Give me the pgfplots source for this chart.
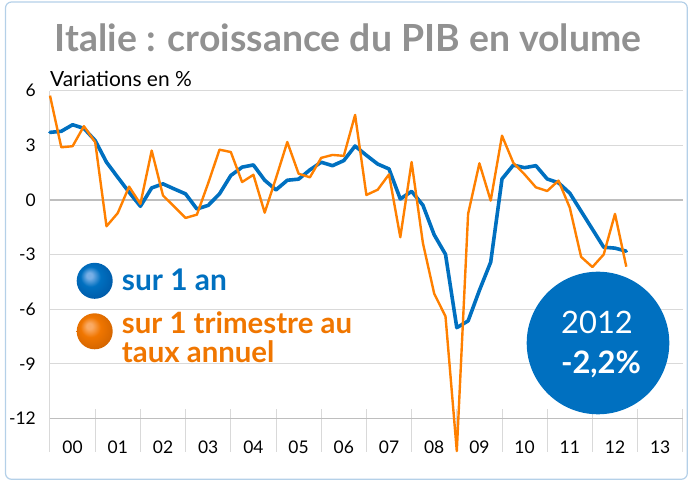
\documentclass[border=0pt]{standalone}
\usepackage{fontspec}
\setmainfont{Lato}
\usepackage{pgfplots}
\usepackage{pgfplotstable}
\pgfplotsset{compat=1.18}

\definecolor{lineblue}{RGB}{0,112,192}
\definecolor{lineorange}{RGB}{255,128,0}
\definecolor{txtorange}{RGB}{240,118,0}
\definecolor{gridgray}{RGB}{217,217,217}
\definecolor{axisgray}{RGB}{190,190,190}
\definecolor{titlegray}{RGB}{145,145,145}
\definecolor{framecol}{RGB}{180,208,232}
\definecolor{blueHi}{RGB}{120,175,230}
\definecolor{blueLo}{RGB}{0,90,168}
\definecolor{orHi}{RGB}{250,170,100}
\definecolor{orLo}{RGB}{210,100,0}

\pgfdeclareradialshading{blueball}{\pgfpoint{-8bp}{8bp}}{color(0bp)=(blueHi); color(4bp)=(blueHi); color(14bp)=(lineblue); color(30bp)=(blueLo); color(50bp)=(blueLo)}
\pgfdeclareradialshading{orangeball}{\pgfpoint{-8bp}{8bp}}{color(0bp)=(orHi); color(4bp)=(orHi); color(14bp)=(txtorange); color(30bp)=(orLo); color(50bp)=(orLo)}

% quarters since 2000Q1: GDP growth over 1 year / over 1 quarter annualised
\pgfplotstableread{
q yoy qoq
0 3.71 5.73
1 3.77 2.89
2 4.13 2.95
3 3.93 4.05
4 3.26 3.17
5 2.07 -1.45
6 1.24 -0.72
7 0.42 0.73
8 -0.35 -0.22
9 0.66 2.71
10 0.88 0.24
11 0.60 -0.37
12 0.33 -0.99
13 -0.50 -0.81
14 -0.30 0.92
15 0.33 2.76
16 1.34 2.63
17 1.80 0.98
18 1.92 1.38
19 1.08 -0.70
20 0.55 1.20
21 1.08 3.18
22 1.14 1.44
23 1.65 1.24
24 2.07 2.31
25 1.88 2.47
26 2.16 2.42
27 2.96 4.67
28 2.45 0.27
29 1.97 0.56
30 1.70 1.40
31 0.05 -2.05
32 0.47 2.08
33 -0.29 -2.37
34 -1.92 -5.15
35 -2.99 -6.40
36 -7.02 -13.8
37 -6.65 -0.77
38 -4.97 2.01
39 -3.42 -0.04
40 1.15 3.53
41 1.91 2.04
42 1.77 1.40
43 1.88 0.69
44 1.15 0.49
45 0.94 1.06
46 0.37 -0.43
47 -0.62 -3.13
48 -1.61 -3.69
49 -2.60 -3.00
50 -2.65 -0.77
51 -2.82 -3.67
}\pibdata

\begin{document}
\begin{tikzpicture}
\useasboundingbox (0,0) rectangle (695bp,483bp);
\draw[framecol, line width=1.2bp, rounded corners=6bp] (5.5bp,3.7bp) rectangle (687.3bp,481bp);

\node[anchor=base, text=titlegray, inner sep=0pt,
  font=\fontsize{37.5}{40}\selectfont\bfseries] at (348bp,431bp)
  {Italie : croissance du PIB en volume};
\node[anchor=base west, inner sep=0pt, font=\fontsize{21}{23}\selectfont]
  at (50bp,396.3bp) {Variations en \%};

\begin{axis}[
  at={(50bp,64.7bp)}, anchor=south west,
  scale only axis, width=632.8bp, height=327.6bp,
  xmin=0, xmax=56, ymin=-12, ymax=6,
  clip=false,
  axis line style={draw=none},
  tick style={draw=none},
  major tick length=0pt,
  ytick={-12,-9,-6,-3,0,3,6},
  yticklabels={-12,-9,-6,-3,0,3,6},
  ymajorgrids,
  major grid style={gridgray, line width=1.1bp},
  xtick={2,6,10,14,18,22,26,30,34,38,42,46,50,54},
  xticklabels={00,01,02,03,04,05,06,07,08,09,10,11,12,13},
  tick label style={font=\fontsize{17.5}{20}\selectfont},
  xticklabel style={anchor=center, yshift=-28.7bp},
  yticklabel style={anchor=east, inner sep=0pt, xshift=-14bp},
]
\draw[gridgray, line width=1bp] (axis cs:0,6) -- ([yshift=-33.4bp]axis cs:0,-12);
\pgfplotsinvokeforeach{4,8,12,16,20,24,28,32,36,40,44,48,52,56}{
  \draw[gridgray, line width=1bp] ([yshift=9bp]axis cs:#1,-12) -- ([yshift=-33.4bp]axis cs:#1,-12);
}
\draw[axisgray, line width=1.4bp] (axis cs:0,0) -- (axis cs:56,0);
\draw[axisgray, line width=1.4bp] (axis cs:0,-12) -- (axis cs:56,-12);

\addplot[lineblue, line width=3.6bp, line join=round, line cap=round] table[x=q, y=yoy] {\pibdata};
\addplot[lineorange, line width=2.4bp, line join=round] table[x=q, y=qoq] {\pibdata};
\end{axis}

% legend
\shade[shading=blueball] (94.7bp,202.2bp) circle (18bp);
\shade[shading=orangeball] (94.7bp,151.7bp) circle (18bp);
\node[anchor=base west, inner sep=0pt, text=lineblue, font=\fontsize{30}{31}\selectfont\bfseries]
  at (121.7bp,192bp) {sur 1 an};
\node[anchor=base west, inner sep=0pt, text=txtorange, font=\fontsize{29.5}{31}\selectfont\bfseries]
  at (121.7bp,149bp) {sur 1 trimestre au};
\node[anchor=base west, inner sep=0pt, text=txtorange, font=\fontsize{29.5}{31}\selectfont\bfseries]
  at (121.7bp,120.3bp) {taux annuel};

% 2012 bubble
\fill[lineblue] (598bp,140bp) circle (71.3bp);
\node[anchor=base, inner sep=0pt, text=white, font=\fontsize{31}{33}\selectfont]
  at (597bp,149.7bp) {2012};
\node[anchor=base, inner sep=0pt, text=white, font=\fontsize{31}{33}\selectfont\bfseries]
  at (601bp,109.7bp) {-2,2\%};
\end{tikzpicture}
\end{document}
